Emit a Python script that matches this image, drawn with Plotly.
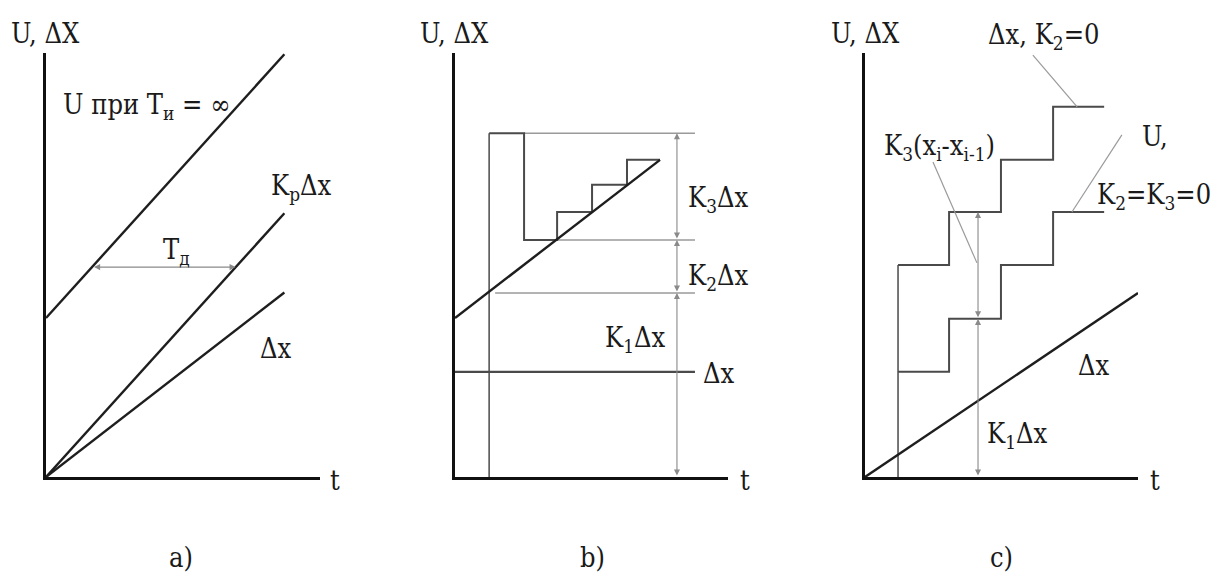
import plotly.graph_objects as go

W, H = 1217, 580

# ---- panel a): P-regulator response ----
a_t = [0.0, 8.7]
a_u_inf = [3.75, 9.97]      # U при Ти = ∞
a_kp_dx = [0.0, 6.22]       # Kp·Δx
a_dx = [0.0, 4.35]          # Δx
a_td_level = 4.95           # level of the Тд dimension
a_td_span = [1.70, 6.92]    # Тд from U line to Kp·Δx line

# ---- panel b): sampled regulator, constant deviation ----
b_ramp_t = [0.0, 7.51]
b_ramp_u = [3.75, 7.48]
b_start_t = 1.25
b_step_t = [1.25, 2.53, 3.74, 5.02, 6.30, 7.51]
b_step_u = [8.11, 5.59, 6.25, 6.89, 7.48, 7.48]
b_dx_level = 2.48
b_ref_levels = [8.11, 5.59, 4.34]
b_ref_start = [2.53, 3.74, 1.47]
b_ref_end = 8.79
b_dim_t = 8.13
b_dim_marks = [0.0, 4.34, 5.59, 8.11]   # K1Δx, K2Δx, K3Δx

# ---- panel c): linearly growing deviation ----
c_dx_t = [0.0, 10.0]
c_dx = [0.0, 4.34]
c_start_t = 1.21
c_step_t = [1.21, 3.08, 4.98, 6.89, 8.76]
c_upper = [5.00, 6.25, 7.48, 8.73, 8.73]   # Δx, K2=0
c_lower = [2.48, 3.73, 5.00, 6.25, 6.25]   # U, K2=K3=0
c_dim_t = 4.14
c_dim_marks = [0.0, 3.73, 6.25]            # K1Δx, K3(xi - xi-1)
c_leaders = [
    ([6.15, 7.77], [9.95, 8.73]),
    ([9.41, 7.58], [8.07, 6.25]),
    ([2.49, 4.10], [7.43, 5.05]),
]

DARK = "#1e1e1e"
MID = "#4a4a4a"
LIGHT = "#9a9a9a"
FONT = "DejaVu Serif Condensed, DejaVu Serif, serif"
FSIZE = 27

fig = go.Figure()


def line(xs, ys, ax, color=DARK, width=2.4, shape="linear"):
    fig.add_trace(go.Scatter(
        x=xs, y=ys, mode="lines", xaxis=f"x{ax}", yaxis=f"y{ax}",
        line=dict(color=color, width=width, shape=shape),
        hoverinfo="skip", showlegend=False))


def dim(ax, x0, y0, x1, y1):
    fig.add_annotation(
        x=x1, y=y1, ax=x0, ay=y0,
        xref=f"x{ax}", yref=f"y{ax}", axref=f"x{ax}", ayref=f"y{ax}",
        text="", showarrow=True, arrowside="end+start",
        arrowhead=2, arrowsize=1.1, arrowwidth=1.1, arrowcolor="#8a8a8a",
        standoff=0, startstandoff=0)


# panel a
line(a_t, a_u_inf, "")
line(a_t, a_kp_dx, "")
line(a_t, a_dx, "")
dim("", a_td_span[0], a_td_level, a_td_span[1], a_td_level)

# panel b
line([b_start_t, b_start_t], [0, b_step_u[0]], "2", color=MID, width=1.5)
for lvl, s in zip(b_ref_levels, b_ref_start):
    line([s, b_ref_end], [lvl, lvl], "2", color=LIGHT, width=1.5)
line([0, b_ref_end], [b_dx_level, b_dx_level], "2", color=MID, width=2.2)
line(b_step_t, b_step_u, "2", color=MID, width=2.0, shape="hv")
line(b_ramp_t, b_ramp_u, "2")
for lo, hi in zip(b_dim_marks[:-1], b_dim_marks[1:]):
    dim("2", b_dim_t, lo, b_dim_t, hi)

# panel c
line([c_start_t, c_start_t], [0, c_upper[0]], "3", color=MID, width=1.5)
line(c_step_t, c_upper, "3", color=MID, width=2.0, shape="hv")
line(c_step_t, c_lower, "3", color=MID, width=2.0, shape="hv")
line(c_dx_t, c_dx, "3")
for xs, ys in c_leaders:
    line(xs, ys, "3", color=LIGHT, width=1.2)
for lo, hi in zip(c_dim_marks[:-1], c_dim_marks[1:]):
    dim("3", c_dim_t, lo, c_dim_t, hi)


def px(x):
    return x / W


def py(y):
    return 1 - y / H


labels = [
    ("U, ΔX", 45, 33), ("U, ΔX", 455, 33), ("U, ΔX", 865, 33),
    ("t", 335, 480), ("t", 745, 480), ("t", 1155, 480),
    ("U при T<sub>и</sub> = ∞", 146, 106),
    ("K<sub>p</sub>Δx", 301, 187),
    ("T<sub>д</sub>", 176, 251),
    ("Δx", 276, 348),
    ("K<sub>3</sub>Δx", 718, 199),
    ("K<sub>2</sub>Δx", 718, 277),
    ("K<sub>1</sub>Δx", 635, 339),
    ("Δx", 719, 373),
    ("Δx, K<sub>2</sub>=0", 1043, 37),
    ("K<sub>3</sub>(x<sub>i</sub>-x<sub>i-1</sub>)", 939, 147),
    ("U,", 1155, 137),
    ("K<sub>2</sub>=K<sub>3</sub>=0", 1154, 197),
    ("Δx", 1094, 365),
    ("K<sub>1</sub>Δx", 1017, 436),
    ("a)", 181, 557), ("b)", 592, 557), ("c)", 1001, 557),
]
for txt, x, y in labels:
    fig.add_annotation(x=px(x), y=py(y), xref="paper", yref="paper",
                       text=txt, showarrow=False, xanchor="center",
                       yanchor="middle",
                       font=dict(family=FONT, size=FSIZE, color="#1a1a1a"))

y_dom = [py(477), py(53)]
x_doms = {"": [px(46), px(320)], "2": [px(455), px(728)],
          "3": [px(865), px(1138)]}

axis_common = dict(range=[0, 10], showgrid=False, zeroline=False,
                   showticklabels=False, ticks="", showline=True,
                   linewidth=3, linecolor="#111", fixedrange=True)
layout = dict(width=W, height=H, margin=dict(l=0, r=0, t=0, b=0),
              paper_bgcolor="white", plot_bgcolor="white", showlegend=False)
for k, dom in x_doms.items():
    layout[f"xaxis{k}"] = dict(domain=dom, anchor=f"y{k}", **axis_common)
    layout[f"yaxis{k}"] = dict(domain=y_dom, anchor=f"x{k}", **axis_common)
fig.update_layout(**layout)

fig.write_html("out.html")
